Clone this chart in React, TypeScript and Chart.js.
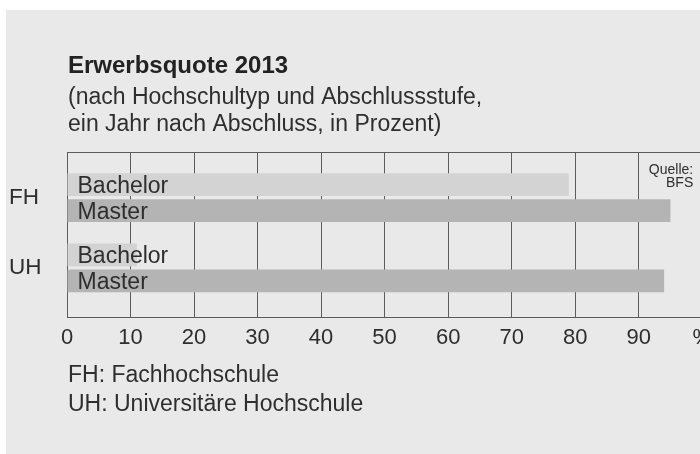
import React, { useEffect, useRef } from 'react';
import { Chart, registerables } from 'chart.js';

Chart.register(...registerables);

// ---- data ----
const categories = ['FH', 'UH'];
const seriesNames = ['Bachelor', 'Master'];
const bachelorValues = [79, 11];
const masterValues = [95, 94];
const xTickValues = [0, 10, 20, 30, 40, 50, 60, 70, 80, 90, 100];
const xTickLabels = ['0', '10', '20', '30', '40', '50', '60', '70', '80', '90', '%'];
const titleText = 'Erwerbsquote 2013';
const subtitleLines = ['(nach Hochschultyp und Abschlussstufe,', 'ein Jahr nach Abschluss, in Prozent)'];
const footnoteLines = ['FH: Fachhochschule', 'UH: Universitäre Hochschule'];
const sourceLines = ['Quelle:', 'BFS'];

const FONT = '"Liberation Sans", Arial, Helvetica, sans-serif';
const TEXT = '#2e2e2e';
const GRID = '#5c5c5c';

const decorPlugin = {
  id: 'decor',
  beforeDraw(chart: any) {
    const { ctx, width, height } = chart;
    ctx.save();
    ctx.fillStyle = '#ffffff';
    ctx.fillRect(0, 0, width, height);
    ctx.fillStyle = '#e9e9e9';
    ctx.fillRect(6, 10, width - 6, height - 10);
    ctx.restore();
  },
  afterDatasetsDraw(chart: any) {
    const { ctx } = chart;
    ctx.save();
    ctx.fillStyle = TEXT;
    ctx.font = `23px ${FONT}`;
    ctx.textAlign = 'left';
    ctx.textBaseline = 'alphabetic';
    chart.data.datasets.forEach((ds: any, i: number) => {
      const meta = chart.getDatasetMeta(i);
      meta.data.forEach((el: any) => {
        ctx.fillText(ds.label, el.base + 10, el.y + 8);
      });
    });
    ctx.restore();
  },
  afterDraw(chart: any) {
    const { ctx, chartArea } = chart;
    const left = chartArea.left + 1;
    ctx.save();
    // top border of the plot frame
    ctx.strokeStyle = GRID;
    ctx.lineWidth = 1;
    const ty = Math.floor(chartArea.top) + 0.5;
    ctx.beginPath();
    ctx.moveTo(chartArea.left, ty);
    ctx.lineTo(chartArea.right, ty);
    ctx.stroke();

    ctx.textAlign = 'left';
    ctx.textBaseline = 'alphabetic';
    ctx.fillStyle = '#222222';
    ctx.font = `bold 24px ${FONT}`;
    ctx.fillText(titleText, left, 73);

    ctx.fillStyle = TEXT;
    ctx.font = `23px ${FONT}`;
    subtitleLines.forEach((t, i) => ctx.fillText(t, left, 103.5 + i * 27));
    footnoteLines.forEach((t, i) => ctx.fillText(t, left, 382 + i * 28.5));

    ctx.textAlign = 'right';
    ctx.font = `14px ${FONT}`;
    sourceLines.forEach((t, i) => ctx.fillText(t, chartArea.right - 9, 173.5 + i * 13.5));
    ctx.restore();
  },
};

export default function App() {
  const canvasRef = useRef<HTMLCanvasElement | null>(null);

  useEffect(() => {
    if (!canvasRef.current) return;
    const toPoints = (vals: number[]) => vals.map((v, i) => ({ x: v, y: i }));
    const chart = new Chart(canvasRef.current, {
      type: 'bar',
      data: {
        datasets: [
          {
            label: seriesNames[0],
            data: toPoints(bachelorValues),
            backgroundColor: '#d3d3d3',
            borderWidth: 0,
            categoryPercentage: 0.74,
            barPercentage: 0.876,
          },
          {
            label: seriesNames[1],
            data: toPoints(masterValues),
            backgroundColor: '#b4b4b4',
            borderWidth: 0,
            categoryPercentage: 0.74,
            barPercentage: 0.876,
          },
        ],
      } as any,
      options: {
        indexAxis: 'y',
        responsive: false,
        animation: false,
        devicePixelRatio: 1,
        layout: { padding: { left: 9, right: 17, top: 152, bottom: 0 } },
        plugins: {
          legend: { display: false },
          title: { display: false },
          tooltip: { enabled: false },
        },
        scales: {
          x: {
            type: 'linear',
            position: 'bottom',
            min: 0,
            max: 100,
            afterBuildTicks: (scale: any) => {
              scale.ticks = xTickValues.map((v) => ({ value: v }));
            },
            afterFit: (scale: any) => {
              scale.height = 137;
            },
            grid: { display: true, color: GRID, lineWidth: 1, drawTicks: false },
            border: { display: true, color: GRID, width: 1 },
            ticks: {
              padding: 8,
              color: TEXT,
              font: { family: FONT, size: 22 },
              maxRotation: 0,
              autoSkip: false,
              callback: (_v: any, index: number) => xTickLabels[index],
            },
          },
          y: {
            type: 'linear',
            reverse: true,
            offset: false,
            min: -0.65,
            max: 1.7,
            bounds: 'data',
            afterBuildTicks: (scale: any) => {
              scale.ticks = categories.map((_c, i) => ({ value: i }));
            },
            afterFit: (scale: any) => {
              scale.width = 58;
            },
            grid: { display: false, offset: false },
            border: { display: true, color: GRID, width: 1 },
            ticks: {
              crossAlign: 'far',
              padding: 16,
              color: TEXT,
              font: { family: FONT, size: 22.5 },
              autoSkip: false,
              callback: (v: any) => categories[Math.round(Number(v))] ?? '',
            },
          },
        },
      } as any,
      plugins: [decorPlugin],
    });
    return () => chart.destroy();
  }, []);

  return (
    <div
      style={{
        position: 'fixed',
        left: 0,
        top: 0,
        width: 700,
        height: 454,
        overflow: 'hidden',
        background: '#ffffff',
      }}
    >
      <canvas ref={canvasRef} width={720} height={454} style={{ display: 'block', width: 720, height: 454 }} />
    </div>
  );
}
